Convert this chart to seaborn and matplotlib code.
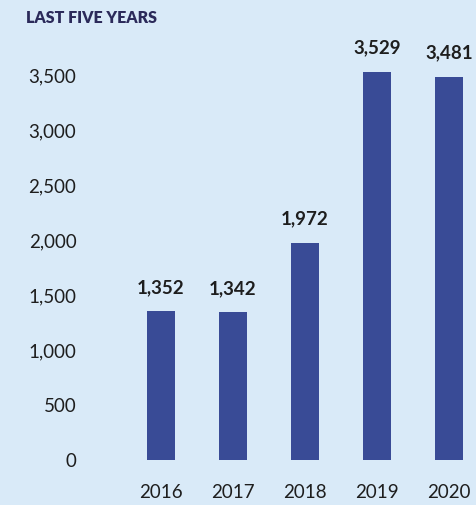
import matplotlib
matplotlib.use("Agg")
import matplotlib.pyplot as plt
import seaborn as sns
import pandas as pd

years = ["2016", "2017", "2018", "2019", "2020"]
values = [1352, 1342, 1972, 3529, 3481]
y_ticks = [0, 500, 1000, 1500, 2000, 2500, 3000, 3500]

bg = "#d9eaf8"
bar_color = "#394b96"
text_color = "#1e1e1e"

sns.set_theme(style="white")
plt.rcParams["font.family"] = ["Lato", "DejaVu Sans"]

df = pd.DataFrame({"year": years, "value": values})

fig = plt.figure(figsize=(4.77, 5.05), dpi=100, facecolor=bg)
ax = fig.add_axes([125 / 477, 45 / 505, 352 / 477, 429 / 505])
ax.set_facecolor(bg)

sns.barplot(data=df, x="year", y="value", color=bar_color, width=0.39,
            saturation=1, linewidth=0, ax=ax)

for i, v in enumerate(values):
    ax.text(i, v + 140, f"{v:,}", ha="center", va="bottom", fontsize=13.5,
            fontweight="bold", color=text_color, clip_on=False)

ax.set_xlim(-0.5, 4.39)
ax.set_ylim(0, 3900)
ax.set_yticks(y_ticks)
ax.set_yticklabels([f"{t:,}" for t in y_ticks], fontsize=13.5, color=text_color)
ax.tick_params(axis="y", length=0, pad=35)
ax.tick_params(axis="x", length=0, pad=17, labelsize=13.5, labelcolor=text_color)
ax.set_xlabel("")
ax.set_ylabel("")
for s in ax.spines.values():
    s.set_visible(False)

fig.text(26 / 477, 1 - 10 / 505, "LAST FIVE YEARS", ha="left", va="top",
         fontsize=11.5, fontweight="heavy", color="#2b2a5a")

fig.savefig("out.png", dpi=100, facecolor=bg)
